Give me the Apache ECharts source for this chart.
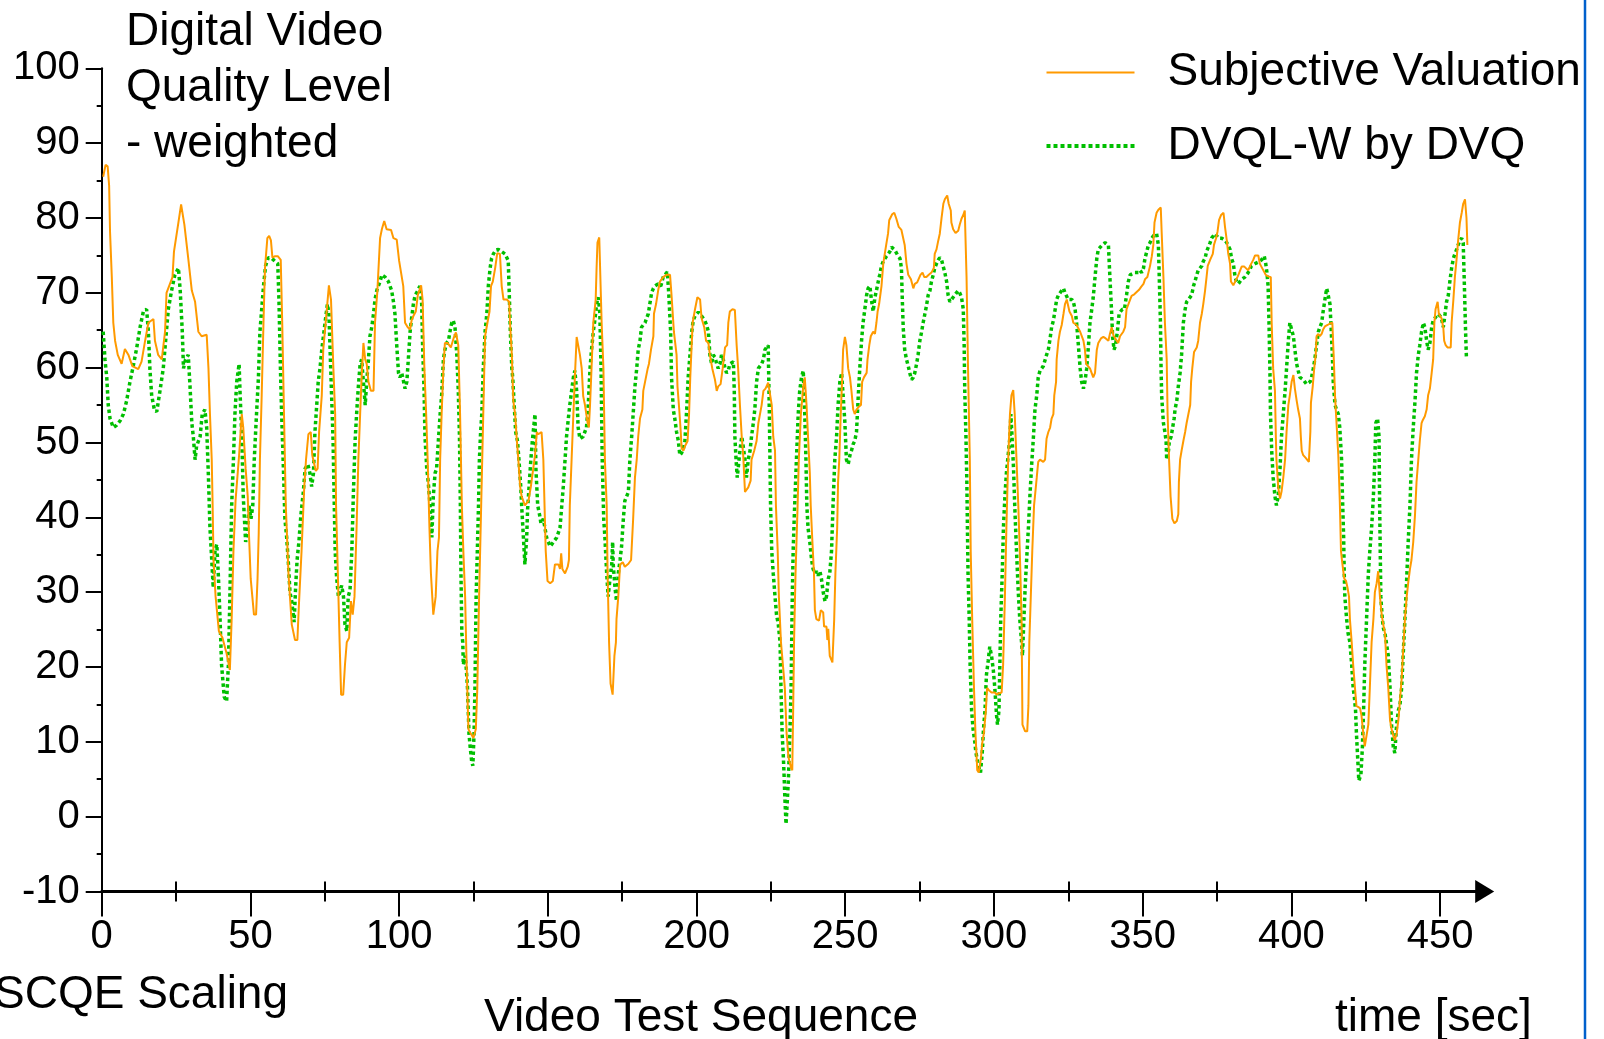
<!DOCTYPE html>
<html>
<head>
<meta charset="utf-8">
<title>Digital Video Quality Level - weighted</title>
<script src="https://cdn.jsdelivr.net/npm/echarts@6/dist/echarts.min.js"></script>
<style>
  html, body { margin: 0; padding: 0; background: #ffffff; }
  #chart { width: 1604px; height: 1039px; }
</style>
</head>
<body>
<div id="chart"></div>
<script>
// Tick values for the time axis
const xMajorTicks = [0, 50, 100, 150, 200, 250, 300, 350, 400, 450];
const xMinorTicks = [25, 75, 125, 175, 225, 275, 325, 375, 425];

// Series names
const seriesNames = ['Subjective Valuation', 'DVQL-W by DVQ'];

// Subjective valuation (SCQE scaling), [time in sec, quality level]
const subjectiveValuation = [
[0.5,85.5],[1.3,87.1],[2.0,86.9],[2.5,84.3],[2.8,78.2],[3.4,72.1],[3.9,66.0],[4.5,63.6],[5.4,61.7],[6.7,60.5],[7.8,62.5],[9.0,61.7],[10.3,60.2],[12.3,59.8],[13.4,60.8],[14.6,63.6],[15.7,66.0],[17.4,66.5],[17.9,63.6],[19.0,61.7],[20.2,61.1],[21.3,64.8],[21.8,70.0],[23.8,72.1],[24.3,75.5],[25.8,79.4],[26.7,81.8],[27.3,82.0],[27.8,79.1],[29.1,74.6],[30.3,70.3],[31.4,68.8],[32.5,64.8],[33.6,64.2],[35.3,64.4],[35.9,59.9],[36.4,53.8],[37.0,47.7],[37.3,41.6],[37.6,34.3],[38.3,29.4],[39.4,24.8],[40.6,23.9],[42.0,21.8],[43.1,19.6],[43.7,26.4],[44.3,35.5],[45.0,42.2],[46.2,48.3],[47.1,53.8],[47.6,52.0],[48.4,46.5],[49.1,42.8],[49.5,37.9],[50.1,31.8],[51.2,27.0],[51.9,27.0],[52.4,31.8],[52.8,37.9],[53.2,47.7],[53.8,56.3],[54.4,66.0],[54.9,73.3],[55.7,77.3],[56.3,77.6],[56.9,77.0],[57.4,74.7],[58.3,74.9],[59.2,74.9],[60.2,74.4],[60.7,66.0],[61.3,53.8],[61.9,41.6],[62.8,32.5],[63.9,25.7],[65.0,23.6],[65.8,23.6],[66.3,28.2],[67.2,35.5],[68.1,44.0],[68.7,47.7],[69.5,51.1],[70.3,51.4],[70.8,48.3],[72.0,46.2],[72.6,46.5],[73.1,51.4],[74.0,56.3],[74.5,62.4],[75.3,66.0],[76.4,71.0],[77.1,69.1],[77.9,59.9],[78.5,53.8],[78.8,41.6],[79.4,32.5],[80.0,23.3],[80.5,16.3],[81.2,16.3],[81.8,20.3],[82.4,23.3],[83.2,23.9],[83.8,28.8],[84.4,27.0],[85.0,29.4],[85.7,38.6],[86.3,47.7],[86.9,53.8],[87.4,58.7],[88.0,63.3],[88.6,61.1],[89.1,60.5],[89.7,58.1],[90.5,56.9],[91.4,56.9],[91.9,66.0],[92.7,70.3],[93.6,77.3],[94.2,78.5],[95.0,79.6],[95.8,78.5],[97.3,78.4],[98.1,77.3],[99.2,77.1],[100.0,74.3],[101.4,70.9],[102.0,66.0],[102.9,65.4],[103.7,65.1],[104.2,66.3],[104.8,66.9],[105.6,67.5],[106.3,69.7],[107.4,71.0],[107.9,69.1],[108.5,59.9],[109.1,53.8],[109.6,47.7],[110.2,38.6],[110.7,32.5],[111.5,27.0],[112.3,29.4],[112.9,35.5],[113.4,37.3],[113.8,47.7],[114.3,53.8],[114.9,59.9],[115.4,63.3],[116.3,63.3],[117.4,62.7],[118.3,63.9],[119.1,64.7],[119.9,63.0],[120.5,53.8],[121.1,41.6],[121.6,35.5],[122.2,29.4],[122.7,20.3],[123.3,11.7],[124.1,11.1],[125.0,10.5],[125.8,11.7],[126.3,17.2],[126.9,29.4],[127.6,41.6],[128.3,53.8],[128.9,64.2],[129.7,66.0],[130.4,67.5],[130.9,70.9],[131.5,71.5],[132.3,73.3],[133.0,75.3],[133.9,75.2],[134.5,70.9],[135.1,69.1],[136.2,69.1],[137.0,68.8],[137.3,66.0],[137.9,61.7],[138.4,55.6],[139.0,53.8],[139.5,50.8],[140.1,47.7],[140.7,44.1],[141.2,42.8],[142.3,41.6],[142.9,41.6],[143.5,42.2],[144.3,44.1],[145.1,46.5],[145.7,48.3],[146.3,51.4],[146.8,51.1],[147.9,51.4],[148.5,47.7],[148.9,41.6],[149.3,35.5],[149.9,31.5],[150.8,31.2],[151.7,31.5],[152.4,33.7],[153.6,33.7],[154.1,33.1],[154.5,35.2],[154.9,33.1],[155.8,32.5],[156.7,33.4],[157.1,34.3],[157.4,41.6],[158.0,47.7],[158.6,53.8],[159.1,58.7],[159.7,64.1],[160.2,63.9],[160.8,61.7],[161.4,59.9],[161.9,56.2],[162.5,55.0],[163.4,52.6],[163.8,52.0],[164.2,55.0],[164.7,59.9],[165.3,66.0],[166.1,69.1],[166.4,73.3],[166.7,76.7],[167.3,77.4],[167.9,77.3],[168.1,66.0],[168.7,59.9],[169.2,47.7],[169.8,41.6],[170.1,32.5],[170.6,23.3],[171.1,17.8],[171.8,16.3],[172.4,21.5],[172.9,23.3],[173.1,26.4],[173.7,29.4],[174.3,33.7],[175.2,34.0],[175.9,33.4],[177.1,33.8],[178.0,34.3],[178.7,39.8],[179.3,45.3],[179.9,47.7],[180.4,50.8],[181.0,53.2],[181.8,54.4],[182.1,56.9],[182.7,58.1],[183.6,59.9],[184.0,60.5],[184.7,62.4],[185.5,64.2],[185.7,67.2],[186.4,68.5],[187.1,70.3],[187.7,71.5],[188.8,72.1],[189.9,72.4],[191.1,72.4],[191.6,69.7],[192.4,64.8],[193.3,61.7],[193.6,57.5],[194.2,54.4],[194.7,51.4],[195.0,49.2],[195.6,48.9],[196.1,49.5],[197.0,50.2],[197.5,53.8],[197.9,58.7],[198.7,66.0],[199.5,67.8],[200.3,69.4],[201.2,69.1],[201.7,66.6],[202.6,65.4],[203.2,63.6],[204.0,63.3],[204.5,61.7],[205.3,59.9],[206.2,58.4],[206.8,56.9],[207.3,57.5],[208.1,57.8],[208.8,59.9],[209.6,62.7],[210.3,63.0],[210.7,66.0],[211.2,67.5],[212.1,67.8],[212.9,67.7],[213.5,63.0],[214.0,59.9],[214.6,55.0],[215.2,50.8],[215.7,48.3],[216.3,43.4],[216.8,43.3],[217.4,44.0],[218.2,44.9],[218.5,47.7],[219.4,48.9],[220.2,50.2],[220.8,52.6],[221.9,55.0],[222.5,56.9],[223.2,57.2],[224.1,58.0],[224.7,57.8],[225.3,55.0],[225.8,50.8],[226.4,48.9],[226.7,41.6],[227.3,35.5],[227.7,29.4],[228.4,23.3],[229.2,19.6],[229.7,17.2],[230.3,11.1],[230.9,8.0],[231.8,6.5],[232.2,6.2],[232.5,14.2],[232.8,23.3],[233.3,32.5],[234.0,41.6],[234.4,47.7],[235.1,53.8],[235.9,57.5],[236.4,58.7],[237.0,55.0],[237.5,50.8],[238.1,45.9],[238.4,41.6],[238.9,37.3],[239.5,32.5],[239.8,27.6],[240.3,26.4],[241.2,26.2],[241.8,27.6],[242.6,27.3],[242.9,25.4],[243.7,25.4],[244.0,23.6],[244.3,25.1],[244.8,21.5],[245.7,20.6],[246.3,26.4],[246.7,32.5],[247.3,38.6],[247.6,44.7],[248.0,47.7],[248.5,53.8],[249.0,58.7],[249.3,62.4],[249.9,64.1],[250.4,63.0],[251.0,59.9],[251.6,58.7],[252.1,56.9],[252.7,54.4],[253.2,53.8],[253.8,54.4],[254.4,54.7],[255.3,55.0],[255.7,58.1],[256.3,58.7],[257.2,59.3],[257.5,61.1],[258.1,63.0],[258.6,64.2],[259.4,64.8],[260.0,64.5],[260.5,66.0],[260.9,67.5],[261.4,68.5],[262.2,70.9],[262.8,73.9],[263.3,75.2],[263.9,76.7],[264.4,77.9],[264.8,79.7],[265.8,80.5],[266.5,80.7],[267.2,79.9],[268.0,78.8],[268.9,78.4],[269.5,78.2],[270.0,76.4],[270.6,73.9],[271.2,72.4],[272.1,71.8],[272.9,70.6],[273.4,71.2],[274.2,71.4],[274.8,71.5],[275.3,72.4],[276.0,72.7],[276.6,72.1],[277.3,72.1],[278.1,72.4],[279.0,72.7],[279.8,73.3],[280.1,75.2],[280.7,75.8],[281.3,77.0],[281.8,77.9],[282.4,80.0],[283.0,81.9],[283.5,82.5],[284.3,83.0],[284.8,81.9],[285.5,81.0],[285.7,79.4],[286.3,78.5],[287.1,78.0],[288.0,78.3],[288.5,79.1],[289.1,79.9],[289.7,80.4],[290.2,81.0],[290.8,72.1],[291.3,59.9],[291.9,47.7],[292.2,35.5],[292.7,26.4],[293.3,17.2],[293.8,11.1],[294.4,6.2],[294.9,5.9],[295.6,7.7],[296.1,9.9],[296.6,11.1],[297.3,14.2],[297.7,17.2],[298.3,16.9],[299.2,16.6],[300.3,16.6],[300.9,16.3],[301.7,16.5],[302.6,16.6],[303.1,20.3],[303.7,29.4],[304.2,38.6],[304.8,47.7],[305.4,53.8],[305.9,56.3],[306.5,57.0],[307.0,53.8],[307.6,47.7],[308.2,41.6],[308.7,35.5],[309.3,26.4],[309.6,12.3],[310.5,11.4],[311.2,11.4],[311.6,14.8],[311.9,23.3],[312.4,29.4],[312.9,35.5],[313.5,41.6],[313.8,42.8],[314.4,45.3],[314.9,47.4],[315.5,47.7],[316.6,47.4],[317.2,47.7],[317.7,50.5],[318.3,51.4],[318.9,52.0],[319.4,53.2],[320.0,53.8],[320.3,56.3],[320.9,58.1],[321.1,61.1],[321.7,63.6],[322.2,64.8],[322.8,65.7],[323.4,67.2],[323.9,68.5],[324.5,69.1],[325.0,69.1],[325.4,67.5],[326.2,66.9],[326.7,66.0],[327.8,65.7],[329.0,64.8],[330.1,63.6],[330.6,62.4],[331.0,60.5],[332.3,59.9],[333.4,58.7],[334.0,59.3],[334.6,62.4],[335.1,63.3],[336.0,63.9],[336.8,64.1],[337.6,63.9],[338.5,63.6],[339.0,64.5],[339.6,65.4],[340.2,64.3],[341.3,63.6],[341.8,63.3],[342.4,64.2],[343.5,64.8],[344.1,65.4],[344.6,67.8],[345.8,69.1],[346.3,69.6],[347.2,69.8],[348.0,70.1],[348.8,70.4],[349.5,70.8],[350.3,71.2],[350.8,71.8],[351.6,72.1],[352.2,72.1],[352.5,73.6],[353.1,74.9],[353.6,76.4],[354.0,79.4],[354.7,80.7],[355.3,81.1],[356.1,81.4],[356.4,78.2],[357.0,72.1],[357.5,66.0],[358.1,61.1],[358.4,53.8],[358.9,47.7],[359.4,42.8],[360.0,39.8],[360.7,39.2],[361.5,39.5],[362.0,40.4],[362.2,44.7],[362.6,47.7],[363.1,48.9],[363.7,50.2],[364.3,51.4],[364.8,52.6],[365.4,53.8],[366.0,55.0],[366.3,58.1],[366.7,59.9],[367.3,62.1],[368.2,62.7],[368.7,63.6],[369.3,66.0],[369.9,67.2],[370.4,68.5],[371.0,70.3],[371.5,72.1],[371.9,73.6],[372.7,74.4],[373.6,75.2],[374.0,76.4],[374.7,77.3],[375.2,78.2],[375.7,79.7],[376.4,80.4],[377.2,80.7],[377.7,78.8],[378.3,77.0],[378.8,75.2],[379.4,73.9],[379.7,71.5],[380.5,71.0],[381.1,71.5],[382.0,72.2],[382.5,72.7],[383.3,73.5],[384.2,73.5],[385.5,73.0],[386.4,73.8],[387.2,74.4],[387.8,75.0],[388.9,75.0],[389.4,73.9],[390.6,73.0],[391.4,72.4],[392.2,72.2],[393.1,72.1],[393.4,66.0],[393.9,59.9],[394.5,56.9],[394.8,50.8],[395.0,47.7],[395.6,44.0],[396.2,42.5],[396.7,43.4],[397.3,45.3],[397.9,47.7],[398.4,51.4],[399.0,55.0],[399.5,56.3],[400.1,58.1],[400.7,59.0],[401.2,57.2],[401.8,55.6],[402.3,54.4],[402.9,53.2],[403.2,50.8],[403.5,48.9],[404.0,48.3],[404.9,47.9],[405.9,47.4],[406.4,51.4],[406.6,55.3],[407.2,57.5],[407.7,59.9],[408.2,61.7],[408.5,64.2],[409.1,64.5],[409.6,64.2],[410.2,64.5],[410.7,65.1],[411.3,65.5],[412.2,65.7],[413.0,65.9],[413.8,66.0],[414.1,63.0],[414.4,59.9],[414.7,56.2],[415.2,52.6],[415.8,48.3],[416.3,42.2],[416.7,35.5],[417.1,34.0],[417.8,31.8],[418.4,31.5],[418.9,30.6],[419.4,29.4],[419.7,26.4],[420.3,23.3],[420.8,20.3],[421.4,17.2],[421.9,14.8],[423.1,14.5],[423.6,13.5],[424.2,11.1],[424.7,9.4],[425.3,9.6],[425.9,12.3],[426.4,17.2],[427.0,23.3],[427.6,26.4],[428.1,30.0],[428.7,31.2],[429.2,32.8],[429.8,29.4],[430.4,27.0],[430.9,25.7],[431.5,24.5],[432.0,20.3],[432.6,17.2],[433.2,12.9],[433.7,11.7],[434.3,10.8],[434.8,10.2],[435.4,11.1],[436.0,12.9],[436.5,15.4],[437.1,18.4],[437.6,22.1],[438.2,26.4],[438.8,29.4],[439.3,31.2],[439.9,33.1],[440.4,34.3],[441.0,36.7],[441.6,40.4],[442.1,44.7],[442.7,47.7],[443.2,50.2],[443.8,52.6],[444.1,52.9],[444.9,53.5],[445.5,54.4],[446.0,56.3],[446.6,57.2],[447.2,59.3],[447.7,61.1],[448.1,66.0],[448.5,67.8],[449.2,68.8],[449.6,67.2],[450.5,66.6],[451.1,65.4],[451.4,63.6],[451.9,63.0],[452.5,62.7],[453.6,62.7],[453.9,66.0],[454.5,69.1],[455.0,72.1],[455.6,74.6],[456.1,77.0],[456.7,79.4],[457.3,80.7],[457.8,81.9],[458.4,82.5],[458.9,80.0],[459.2,76.4]
];

// DVQL-W computed by DVQ, [time in sec, quality level]
const dvqlWeighted = [
[0.5,64.8],[1.1,61.1],[1.7,58.7],[2.2,55.0],[2.8,53.2],[3.9,52.0],[5.0,52.3],[6.2,52.9],[7.3,53.8],[8.4,55.6],[9.5,58.1],[10.6,60.2],[11.8,62.7],[12.9,65.4],[14.0,67.5],[15.1,67.8],[15.7,64.8],[16.2,59.9],[16.8,56.3],[17.7,54.4],[18.5,54.1],[19.6,56.9],[20.7,59.9],[21.5,63.6],[22.4,67.8],[23.5,70.3],[24.6,72.4],[25.8,73.3],[26.4,70.3],[27.1,64.8],[27.5,59.9],[28.2,61.1],[29.1,61.7],[29.7,57.5],[30.3,52.6],[30.8,50.8],[31.4,47.7],[31.9,49.5],[33.1,50.8],[33.8,53.8],[34.7,54.4],[35.3,52.0],[35.9,45.3],[36.4,38.6],[37.0,34.3],[37.5,30.6],[38.1,35.5],[38.7,36.4],[39.2,32.5],[39.8,26.4],[40.3,20.3],[41.2,16.0],[42.0,15.4],[42.6,20.3],[43.1,29.4],[43.7,41.6],[44.3,47.7],[44.8,53.8],[45.4,58.1],[46.2,60.5],[46.5,56.9],[47.1,50.8],[47.6,42.8],[48.4,36.7],[49.0,38.0],[49.5,41.6],[50.2,39.8],[50.8,41.6],[51.3,47.7],[51.9,52.6],[52.7,58.7],[53.2,64.8],[53.8,67.8],[54.4,70.9],[55.1,73.6],[56.0,74.7],[57.2,74.6],[58.3,74.2],[59.2,73.9],[59.6,69.1],[60.1,59.9],[60.5,53.8],[61.1,46.5],[61.6,39.8],[62.2,37.3],[62.8,33.7],[63.3,30.0],[63.9,28.8],[64.7,26.0],[65.2,30.6],[65.7,34.3],[66.3,36.7],[67.0,40.4],[67.8,43.4],[68.4,46.5],[69.3,47.1],[70.0,45.9],[70.6,44.1],[71.2,45.9],[71.7,51.4],[72.3,55.0],[72.8,58.1],[73.4,59.9],[74.0,62.4],[75.1,66.0],[75.9,68.5],[76.4,67.2],[76.9,61.1],[77.3,56.3],[77.8,50.2],[78.5,35.5],[79.0,31.9],[79.6,29.4],[80.1,30.0],[80.7,30.9],[81.3,29.4],[81.8,25.7],[82.4,24.8],[82.9,29.4],[83.5,30.3],[84.1,35.5],[84.6,42.8],[85.2,50.2],[85.8,54.4],[86.3,57.5],[86.9,60.5],[87.4,61.1],[88.0,58.1],[88.6,55.0],[89.1,58.1],[89.7,61.1],[90.2,64.2],[90.8,65.4],[91.4,67.2],[91.9,69.1],[92.5,70.3],[93.0,70.9],[93.6,71.5],[94.2,72.4],[94.7,72.4],[95.3,72.1],[96.4,71.5],[97.5,70.3],[98.1,68.8],[98.6,67.2],[99.2,63.0],[99.8,59.3],[100.3,58.7],[100.9,59.3],[101.4,59.3],[102.0,57.2],[102.6,58.1],[103.1,61.1],[103.7,64.8],[104.2,66.6],[104.8,68.5],[105.4,69.7],[106.3,70.3],[107.0,70.9],[107.6,68.5],[107.9,63.0],[108.4,56.9],[108.7,50.8],[109.3,46.5],[109.8,44.7],[110.4,41.6],[111.0,37.3],[111.5,42.8],[112.1,45.9],[112.6,46.5],[113.2,50.2],[113.8,53.8],[114.3,56.3],[114.9,61.1],[115.4,62.4],[116.0,63.3],[116.6,63.6],[117.1,64.8],[117.7,66.0],[118.2,66.3],[118.8,65.4],[119.4,61.7],[119.9,56.9],[120.3,50.8],[120.6,41.6],[120.8,32.5],[121.1,24.5],[121.4,23.3],[121.6,20.3],[122.2,21.5],[122.5,20.3],[123.0,17.2],[123.5,11.1],[123.9,9.3],[124.4,7.4],[124.8,6.8],[125.2,11.1],[125.5,17.2],[125.9,29.4],[126.3,35.5],[126.7,41.6],[127.0,47.7],[127.4,51.3],[127.8,53.8],[128.3,59.9],[128.9,64.8],[129.5,67.2],[130.0,70.9],[130.6,73.3],[131.1,74.6],[131.7,75.2],[132.5,75.7],[133.4,75.8],[134.5,75.5],[135.6,75.2],[136.7,74.3],[137.1,69.1],[137.4,64.8],[137.9,59.9],[138.2,58.7],[138.7,55.0],[139.2,51.4],[139.8,50.2],[140.3,47.7],[140.9,44.1],[141.2,41.6],[141.8,37.3],[142.3,33.7],[142.9,37.3],[143.2,41.0],[143.7,44.1],[144.3,47.7],[144.8,50.2],[145.4,52.6],[145.7,53.8],[146.0,46.5],[146.6,41.6],[147.2,40.4],[147.7,39.2],[148.5,39.8],[149.6,37.3],[150.8,36.1],[151.9,36.7],[153.0,37.3],[154.1,38.6],[154.7,41.6],[155.2,44.1],[155.8,47.7],[156.3,50.8],[156.9,53.2],[157.4,55.0],[158.0,56.9],[158.6,58.7],[159.1,59.6],[159.7,56.9],[160.2,52.0],[160.8,50.5],[161.9,50.8],[163.0,52.0],[163.6,55.0],[164.2,59.9],[164.7,62.4],[165.3,64.8],[165.9,66.6],[166.4,68.5],[167.0,69.4],[167.5,67.2],[167.9,59.9],[168.3,47.7],[168.8,39.8],[169.2,37.3],[169.8,32.5],[170.3,29.4],[170.9,31.8],[171.5,33.7],[171.8,36.7],[172.0,33.7],[172.6,30.6],[173.1,28.8],[173.7,32.5],[174.3,34.3],[174.8,36.1],[175.4,39.8],[175.9,42.2],[176.5,42.8],[177.1,43.4],[177.6,47.7],[178.2,50.8],[178.7,53.8],[179.3,57.5],[179.9,59.9],[180.4,62.4],[181.0,63.6],[181.5,65.4],[182.1,65.7],[182.7,66.0],[183.2,66.6],[183.8,67.2],[184.3,68.5],[184.9,70.0],[185.5,70.6],[186.0,70.9],[187.1,71.2],[188.0,70.9],[188.8,72.1],[189.4,72.4],[190.2,72.8],[190.7,69.7],[191.3,64.8],[191.6,58.7],[192.2,54.4],[192.7,53.2],[193.3,51.4],[193.9,50.2],[194.4,48.3],[195.0,48.6],[195.6,49.2],[196.1,50.2],[196.7,54.4],[197.2,58.7],[197.8,61.7],[198.4,64.8],[198.9,66.3],[199.5,66.9],[200.0,67.1],[200.6,67.4],[201.7,66.9],[202.8,66.3],[203.4,65.7],[204.0,64.8],[204.5,61.7],[205.1,60.5],[205.6,61.7],[206.2,61.4],[206.8,60.5],[207.3,59.9],[207.9,60.5],[208.4,61.7],[209.0,61.1],[209.6,59.9],[210.1,59.3],[210.7,59.6],[211.2,60.5],[212.4,60.8],[212.7,56.9],[212.9,50.8],[213.3,47.7],[213.7,45.3],[214.0,46.5],[214.6,48.9],[215.2,50.8],[215.7,49.5],[216.3,47.7],[216.8,45.3],[217.4,47.7],[218.0,48.9],[218.5,50.8],[219.1,52.6],[219.6,54.4],[220.2,58.1],[220.8,59.9],[221.9,60.5],[222.5,61.1],[223.0,62.4],[224.1,63.0],[224.5,53.8],[224.9,41.6],[225.3,35.5],[225.8,32.5],[226.4,29.4],[226.9,27.0],[227.5,25.7],[228.1,23.3],[228.4,17.2],[228.8,11.1],[229.2,8.0],[229.5,5.0],[229.7,2.6],[230.1,-1.0],[230.5,1.9],[230.9,5.0],[231.4,11.1],[231.8,17.2],[232.2,29.4],[232.5,35.5],[232.9,40.4],[233.6,47.7],[234.2,53.8],[234.7,56.9],[235.3,58.7],[235.9,59.6],[236.4,53.8],[236.8,47.7],[237.1,41.6],[237.5,38.6],[238.1,36.7],[238.7,34.3],[239.2,33.1],[239.8,32.5],[240.3,32.8],[240.9,32.2],[241.5,32.8],[242.0,31.8],[242.6,30.0],[243.2,28.8],[243.7,29.4],[244.3,31.8],[244.8,32.5],[245.4,35.5],[245.9,41.6],[246.5,47.7],[247.1,50.8],[247.6,55.0],[248.2,58.1],[248.8,59.3],[249.3,56.3],[249.9,52.6],[250.4,47.7],[251.0,47.1],[251.6,48.3],[252.1,48.9],[252.7,49.8],[253.2,50.2],[253.8,51.4],[254.4,56.3],[254.9,59.9],[255.5,63.6],[256.0,66.0],[256.6,67.8],[257.2,69.7],[257.7,70.6],[258.3,70.9],[258.8,69.1],[259.4,67.5],[260.0,69.4],[260.5,70.3],[261.1,71.5],[261.6,72.4],[262.2,73.6],[262.8,74.2],[263.9,74.9],[265.0,75.5],[265.6,76.1],[266.1,76.1],[266.7,75.7],[267.8,74.9],[268.4,74.6],[268.9,73.3],[269.2,69.1],[269.5,65.4],[270.0,62.4],[270.6,61.1],[271.2,60.2],[271.7,59.3],[272.3,58.4],[272.9,58.7],[273.4,59.3],[274.0,60.5],[274.5,61.7],[275.1,63.6],[275.7,64.8],[276.2,66.0],[276.8,67.2],[277.3,68.2],[277.9,69.7],[278.5,70.3],[279.0,71.5],[279.6,72.4],[280.1,73.3],[280.7,73.9],[281.3,74.4],[281.8,74.7],[282.4,74.4],[282.9,73.6],[283.5,72.7],[284.1,71.5],[284.6,69.7],[285.2,68.8],[286.3,69.4],[287.4,70.0],[288.0,70.3],[288.5,70.0],[289.1,69.4],[289.7,67.8],[290.0,63.0],[290.2,56.9],[290.6,50.8],[290.9,44.7],[291.1,38.6],[291.3,32.5],[291.7,26.4],[292.0,20.3],[292.5,14.2],[293.0,11.7],[293.6,9.9],[293.9,8.7],[294.5,7.4],[295.0,6.5],[295.5,5.9],[296.1,8.7],[296.5,11.7],[297.0,14.2],[297.3,17.2],[297.5,19.0],[298.1,20.9],[298.6,22.7],[299.2,21.5],[299.8,19.6],[300.3,17.2],[300.9,13.5],[301.2,12.3],[301.7,14.2],[302.0,20.3],[302.3,26.4],[302.8,32.5],[303.2,38.6],[303.7,42.8],[304.2,45.9],[304.8,48.3],[305.4,50.8],[305.7,53.8],[306.1,50.8],[306.6,46.5],[307.0,41.6],[307.6,35.5],[308.2,30.0],[308.7,26.4],[309.3,23.3],[309.6,21.5],[310.5,30.6],[311.0,34.3],[311.6,38.6],[312.1,42.8],[312.7,47.1],[313.3,50.8],[313.8,54.4],[314.4,56.3],[314.9,58.7],[315.5,59.6],[316.6,60.2],[317.7,61.7],[318.3,62.4],[318.9,63.9],[319.4,65.4],[320.0,66.3],[320.6,67.8],[321.1,69.1],[321.7,69.7],[322.8,70.3],[323.4,70.6],[323.9,70.0],[325.0,69.1],[326.2,69.1],[326.7,68.8],[327.3,67.8],[327.8,66.0],[328.4,63.0],[329.0,59.9],[329.5,58.1],[330.1,57.2],[330.6,58.1],[331.2,59.9],[331.8,63.0],[332.3,66.0],[332.9,67.8],[333.4,69.4],[334.0,72.1],[334.6,74.6],[335.1,75.8],[336.2,76.3],[337.4,76.7],[338.5,76.4],[339.0,72.1],[339.6,67.2],[339.9,64.2],[340.4,62.4],[340.9,63.0],[341.5,64.8],[342.1,67.2],[342.6,67.5],[343.2,67.8],[343.9,67.8],[344.6,69.7],[345.2,71.5],[345.8,72.4],[346.3,72.6],[347.4,72.7],[348.6,72.7],[349.1,73.0],[349.7,72.7],[350.3,73.3],[350.8,74.6],[351.4,75.5],[351.9,76.3],[352.5,76.7],[353.1,77.3],[353.6,77.6],[354.7,77.9],[355.3,76.4],[355.6,72.1],[356.0,66.0],[356.2,59.9],[356.4,56.3],[356.8,53.8],[357.0,52.6],[357.5,51.4],[357.9,50.2],[358.1,47.7],[358.7,48.9],[359.0,50.2],[359.6,50.8],[360.1,52.0],[360.6,53.2],[360.9,54.4],[361.5,55.6],[362.0,57.5],[362.6,59.3],[363.1,61.7],[363.7,66.0],[364.3,67.8],[364.8,68.8],[365.4,69.1],[366.5,69.7],[367.1,70.9],[367.6,71.5],[368.2,72.4],[368.7,73.0],[369.9,73.6],[370.4,74.2],[371.0,74.6],[371.5,75.5],[372.1,76.1],[372.7,76.7],[373.2,77.3],[373.8,77.6],[374.4,77.9],[375.5,77.3],[376.6,77.3],[377.7,77.0],[378.3,76.7],[378.8,76.3],[379.4,75.8],[379.9,74.6],[380.5,73.9],[381.1,72.1],[381.6,71.5],[382.2,71.2],[382.8,71.2],[383.3,71.8],[384.4,72.1],[385.5,72.7],[386.6,73.6],[387.8,73.9],[388.9,74.1],[390.0,74.4],[390.9,74.9],[391.4,73.9],[391.8,72.7],[392.2,70.9],[392.5,66.0],[392.8,59.9],[393.0,53.8],[393.4,48.9],[393.9,45.3],[394.5,42.8],[395.0,41.6],[395.6,42.8],[396.2,46.5],[396.7,50.8],[397.3,53.8],[397.9,56.9],[398.4,59.9],[399.0,63.6],[399.5,66.0],[400.1,66.0],[400.7,64.2],[401.2,62.4],[401.8,60.5],[402.3,59.6],[402.9,58.7],[404.0,58.4],[405.1,57.8],[406.3,58.1],[406.8,58.7],[407.4,59.9],[407.9,61.1],[408.5,63.0],[409.1,64.8],[409.6,65.4],[410.2,66.0],[410.7,67.5],[411.3,69.1],[411.9,70.6],[412.4,69.7],[413.0,68.5],[413.3,66.0],[413.8,61.7],[414.1,58.1],[414.7,55.0],[415.2,54.4],[415.8,53.8],[416.3,52.0],[416.9,47.7],[417.2,42.8],[417.6,37.3],[417.8,32.5],[418.0,29.4],[418.6,26.4],[419.1,24.5],[419.7,23.3],[420.3,20.3],[420.8,17.2],[421.2,16.0],[421.6,14.2],[421.9,11.1],[422.3,8.0],[422.7,4.8],[423.4,5.6],[423.9,9.3],[424.3,14.2],[424.7,20.3],[425.3,26.4],[425.9,32.5],[426.4,35.5],[427.0,38.6],[427.6,42.8],[428.1,47.7],[428.4,52.6],[429.0,53.2],[429.5,50.8],[429.7,41.6],[429.9,35.5],[430.1,29.4],[430.6,26.4],[431.0,25.1],[431.5,24.5],[432.0,24.5],[432.6,21.5],[433.2,17.2],[433.7,12.3],[434.3,9.3],[434.8,8.5],[435.4,12.3],[436.0,14.2],[436.5,14.8],[437.1,17.2],[437.6,21.5],[438.2,26.4],[438.8,31.8],[439.3,36.7],[439.9,41.6],[440.4,47.7],[441.0,52.0],[441.6,55.6],[442.1,59.3],[442.7,61.7],[443.2,63.0],[443.8,64.8],[444.4,66.0],[444.9,65.4],[445.5,63.6],[446.0,62.4],[446.6,63.3],[447.2,65.4],[447.7,66.3],[448.8,66.9],[449.4,67.2],[450.0,66.9],[450.5,66.6],[451.1,65.4],[451.7,67.2],[452.2,68.8],[452.8,69.7],[453.3,71.5],[453.9,73.3],[454.5,74.6],[455.0,75.2],[455.6,75.8],[456.1,76.4],[456.7,77.0],[457.3,77.3],[457.8,76.7],[458.2,70.9],[458.6,64.8],[458.9,61.1]
];

const FONT = '"Liberation Sans", Arial, Helvetica, sans-serif';
const ORANGE = '#FF9A00';
const GREEN = '#00BF00';
const GREEN_DASH = [3.5, 3];

const chart = echarts.init(document.getElementById('chart'), null, { renderer: 'canvas', width: 1604, height: 1039 });

function label(text, x, y, align) {
  return {
    type: 'text', x: x, y: y, silent: true,
    style: {
      text: text, fill: '#000', font: '46px ' + FONT,
      textAlign: align, align: align,
      textVerticalAlign: 'middle', verticalAlign: 'middle'
    }
  };
}

chart.setOption({
  animation: false,
  backgroundColor: '#ffffff',
  grid: { left: 101.7, right: 128.3, top: 68.3, bottom: 147.5, containLabel: false },
  legend: {
    orient: 'vertical',
    left: 1039.5, top: 44.6,
    itemWidth: 88, itemHeight: 46, itemGap: 27.4,
    selectedMode: false,
    itemStyle: { opacity: 0, borderWidth: 0 },
    textStyle: { fontFamily: FONT, fontSize: 46, lineHeight: 46, color: '#000', padding: [0, 0, 0, 28] },
    data: [
      { name: seriesNames[0], lineStyle: { color: ORANGE, width: 2 } },
      { name: seriesNames[1], lineStyle: { color: GREEN, width: 4, type: [4, 3], cap: 'butt' } }
    ]
  },
  xAxis: [
    {
      type: 'value', min: 0, max: 462, interval: 50, position: 'bottom',
      axisLine: {
        show: true, onZero: false,
        lineStyle: { color: '#000', width: 3 },
        symbol: ['none', 'triangle'], symbolSize: [23, 19], symbolOffset: [0, 9]
      },
      axisTick: { show: true, customValues: xMajorTicks, length: 25, lineStyle: { color: '#000', width: 2 } },
      axisLabel: { customValues: xMajorTicks, margin: 25, color: '#000', fontFamily: FONT, fontSize: 40 },
      splitLine: { show: false }
    },
    {
      // minor ticks crossing the time axis
      type: 'value', min: 0, max: 462, position: 'bottom', offset: 10,
      axisLine: { show: false, onZero: false },
      axisLabel: { show: false },
      splitLine: { show: false },
      axisTick: { show: true, inside: true, customValues: xMinorTicks, length: 20, lineStyle: { color: '#000', width: 2 } }
    }
  ],
  yAxis: {
    type: 'value', min: -10, max: 100, interval: 10,
    axisLine: { show: true, onZero: false, lineStyle: { color: '#000', width: 2 } },
    axisTick: { show: true, length: 16, lineStyle: { color: '#000', width: 2 } },
    minorTick: { show: true, splitNumber: 2, length: 5, lineStyle: { color: '#000', width: 2 } },
    axisLabel: { margin: 22, color: '#000', fontFamily: FONT, fontSize: 40 },
    splitLine: { show: false }
  },
  series: [
    {
      name: seriesNames[0], type: 'line', xAxisIndex: 0,
      data: subjectiveValuation, symbol: 'none', color: ORANGE,
      lineStyle: { color: ORANGE, width: 2 }, z: 3
    },
    {
      name: seriesNames[1], type: 'line', xAxisIndex: 0,
      data: dvqlWeighted, symbol: 'none', color: GREEN,
      lineStyle: { color: GREEN, width: 3.5, type: GREEN_DASH, cap: 'butt' }, z: 2
    }
  ],
  graphic: [
    label('Digital Video', 126, 32, 'left'),
    label('Quality Level', 126, 88, 'left'),
    label('- weighted', 126, 144, 'left'),
    label('SCQE Scaling', -6, 995, 'left'),
    label('Video Test Sequence', 701, 1018, 'center'),
    label('time [sec]', 1335, 1018, 'left'),
    {
      type: 'line', silent: true,
      shape: { x1: 1585, y1: 0, x2: 1585, y2: 1039 },
      style: { stroke: '#0060CC', lineWidth: 2.5 }
    }
  ]
});
</script>
</body>
</html>
